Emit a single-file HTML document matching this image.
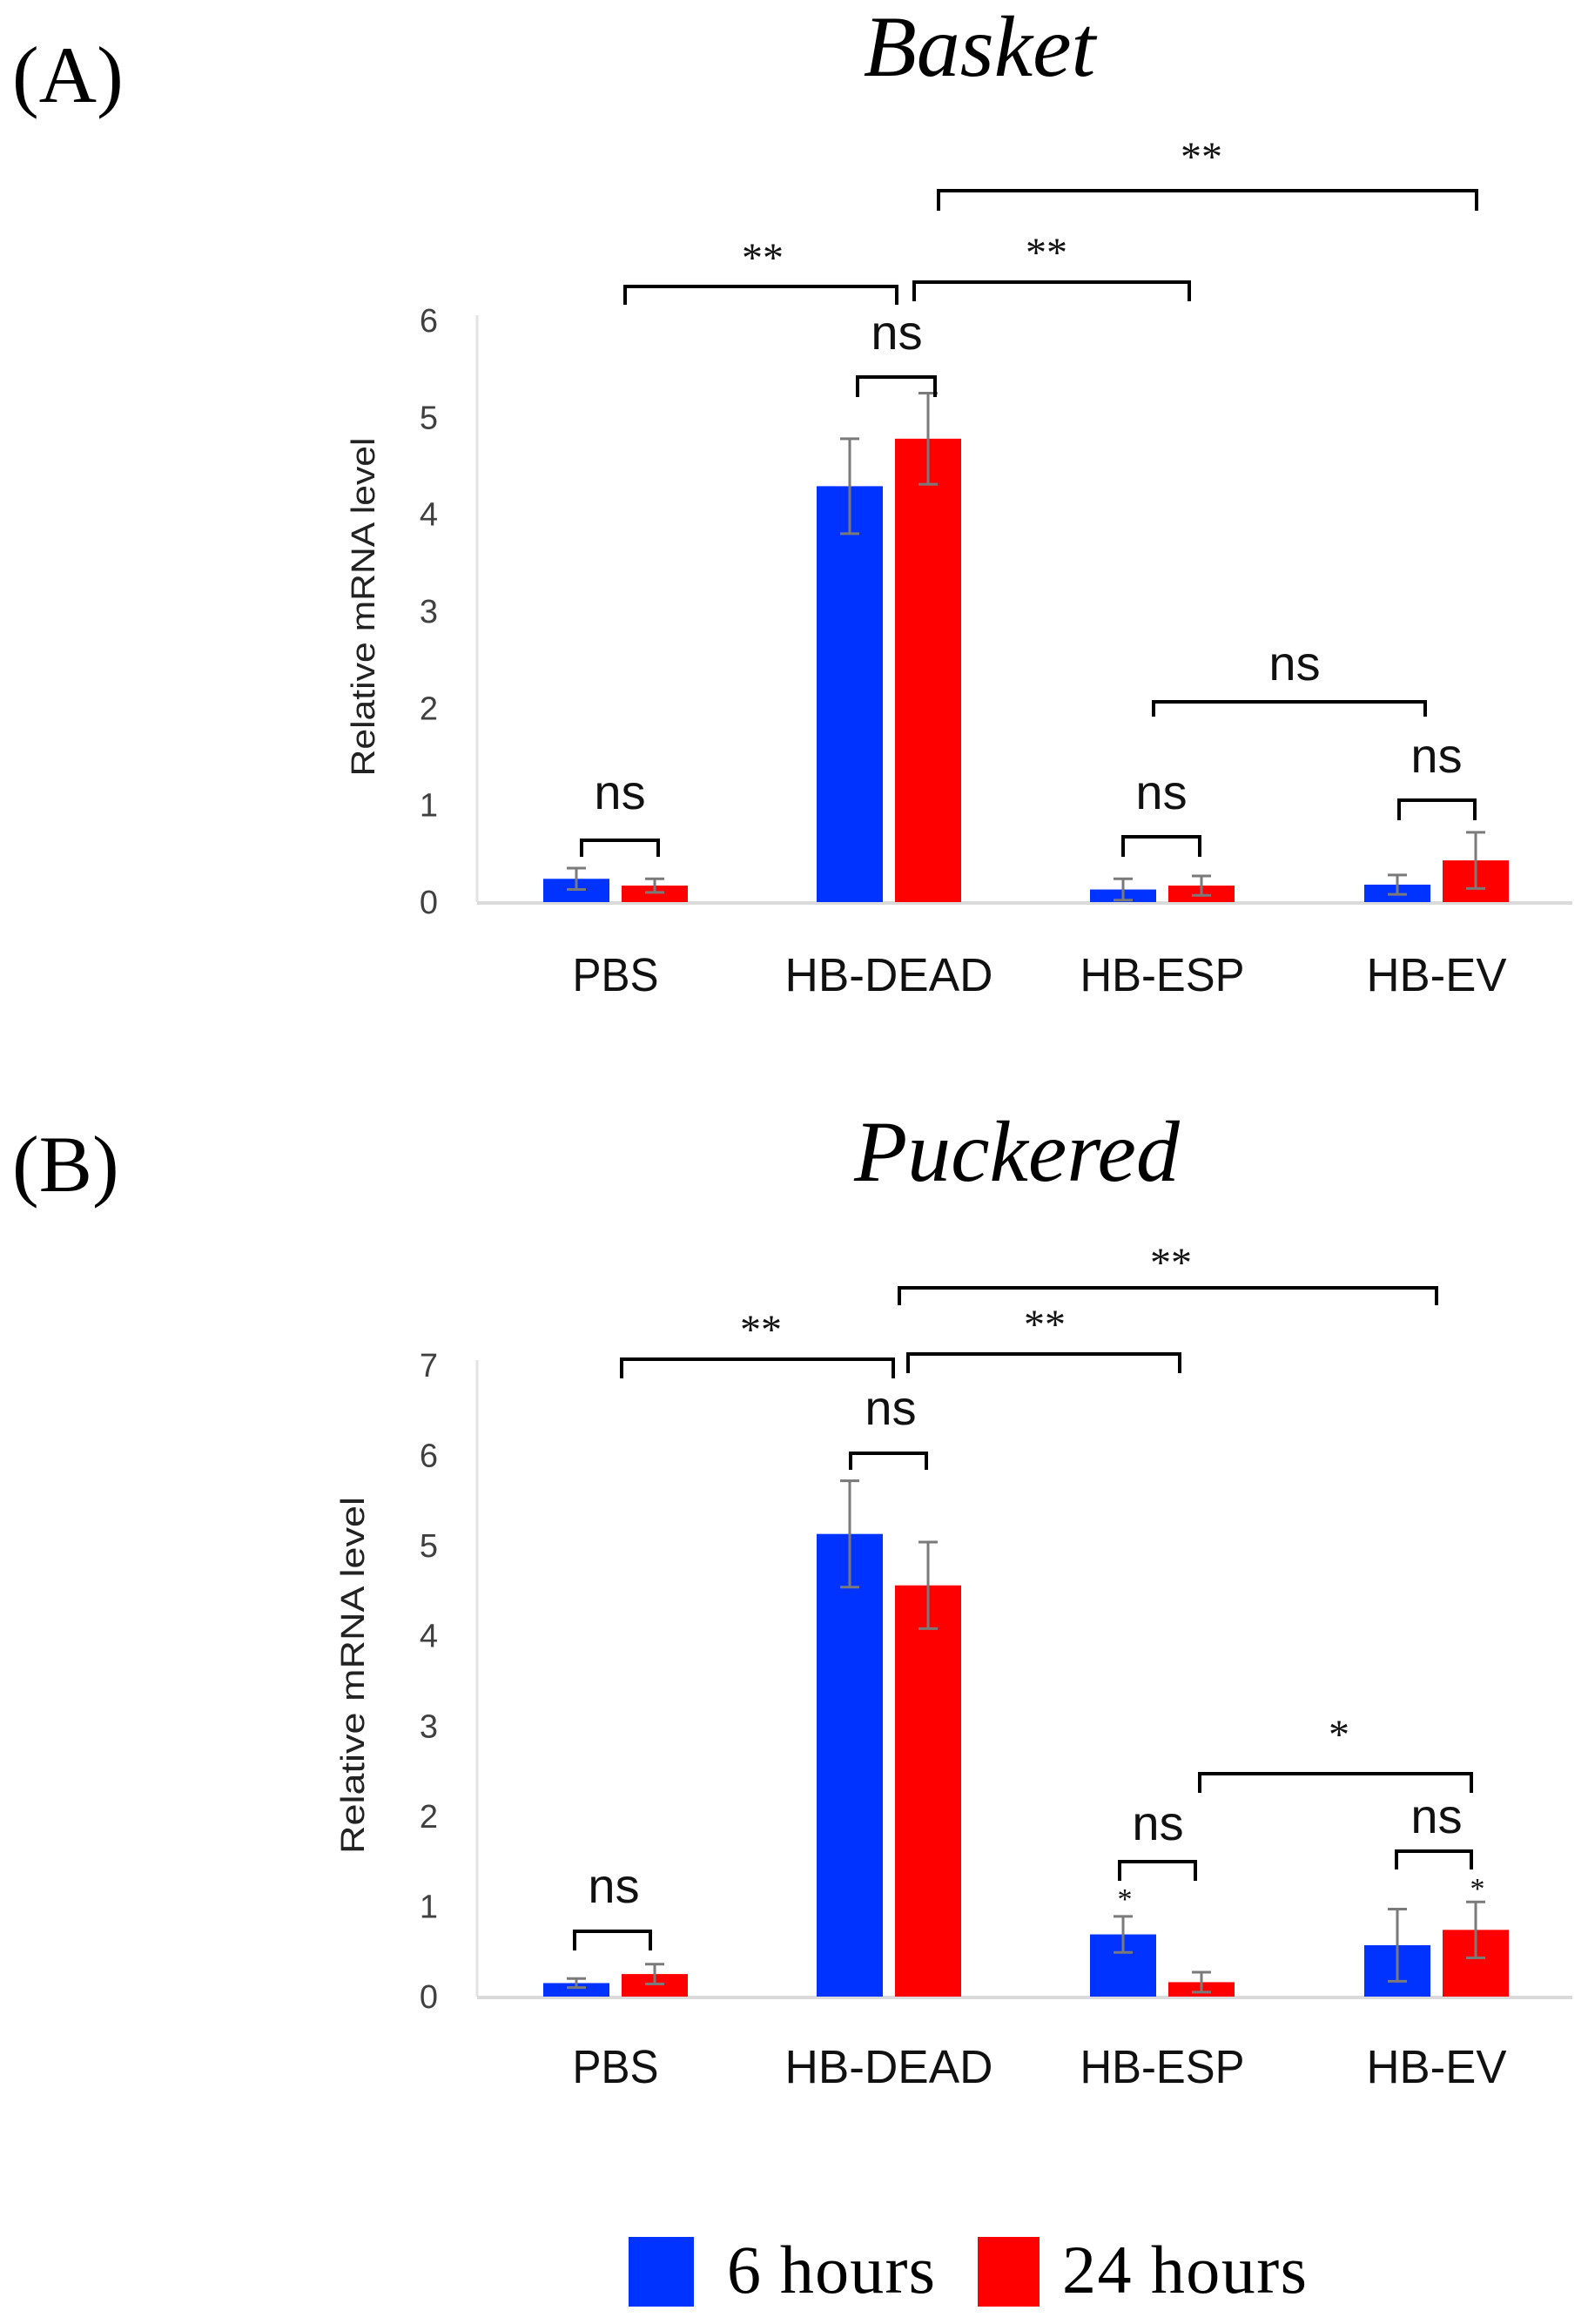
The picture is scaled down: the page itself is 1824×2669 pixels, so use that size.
<!DOCTYPE html>
<html><head><meta charset="utf-8"><style>
html,body{margin:0;padding:0;background:#fff;}
svg{display:block;}
.sans{font-family:"Liberation Sans",sans-serif;}
.serif{font-family:"Liberation Serif",serif;}
</style></head><body>
<svg id="fig" width="1824" height="2669" viewBox="0 0 1824 2669" xmlns="http://www.w3.org/2000/svg">
<text x="14" y="117" class="serif" font-size="92">(A)</text>
<text x="1125" y="87" class="serif" font-size="100" font-style="italic" text-anchor="middle">Basket</text>
<text x="14" y="1368" class="serif" font-size="92">(B)</text>
<text x="1168" y="1356" class="serif" font-size="100" font-style="italic" text-anchor="middle">Puckered</text>
<g>
<rect x="722" y="2569" width="75" height="80" fill="#0033ff"/>
<text x="835" y="2633" class="serif" font-size="78" textLength="239">6 hours</text>
<rect x="1123" y="2569" width="71" height="80" fill="#ff0000"/>
<text x="1220" y="2633" class="serif" font-size="78" textLength="281">24 hours</text>
</g>
</svg>
<script>
const categories = ["PBS","HB-DEAD","HB-ESP","HB-EV"];
const basket6h = [0.24, 4.29, 0.13, 0.18];
const basket24h = [0.17, 4.78, 0.17, 0.43];
const basket6hErr = [0.11, 0.49, 0.11, 0.10];
const basket24hErr = [0.07, 0.47, 0.10, 0.29];
const puckered6h = [0.15, 5.13, 0.69, 0.57];
const puckered24h = [0.25, 4.56, 0.16, 0.74];
const puckered6hErr = [0.05, 0.59, 0.20, 0.40];
const puckered24hErr = [0.11, 0.48, 0.11, 0.31];
const basketTicks = [0,1,2,3,4,5,6];
const puckeredTicks = [0,1,2,3,4,5,6,7];

const NS = "http://www.w3.org/2000/svg";
const svg = document.getElementById("fig");
function mk(tag, attrs, parent){
  const e = document.createElementNS(NS, tag);
  for (const k in attrs) e.setAttribute(k, attrs[k]);
  (parent||svg).appendChild(e);
  return e;
}
const catX = [707, 1021, 1335, 1650];
const labelLen = [99, 239, 189, 161];

function panel(p){
  const g = mk("g", {});
  
  
  const yv = v => p.y0 - (p.y0 - p.yTop) * v / p.max;
  // axes
  const ya = mk("line", {x1:548, x2:548, y1:p.yTop-6, y2:p.y0, stroke:"#e3e3e3", "stroke-width":3}, g);
  
  
  const xa = mk("line", {x1:548, x2:1806, y1:p.y0+1, y2:p.y0+1, stroke:"#dadada", "stroke-width":4}, g);
  
  
  p.ticks.forEach(t => {
    const tx = mk("text", {x:503, y:yv(t)+13, "text-anchor":"end", "font-size":38, fill:"#404040", class:"sans"}, g);
    tx.textContent = t;
    
    
  });
  const yt = mk("text", {x:0, y:0, "text-anchor":"middle", "font-size":38, fill:"#222", class:"sans", textLength:p.titleLen, lengthAdjust:"spacingAndGlyphs", transform:`translate(${p.titleX},${p.titleY}) rotate(-90)`}, g);
  yt.textContent = "Relative mRNA level";
  
  
  categories.forEach((c, i) => {
    const lt = mk("text", {x:catX[i], y:p.labelY, "text-anchor":"middle", "font-size":54, fill:"#111", class:"sans", textLength:labelLen[i], lengthAdjust:"spacingAndGlyphs"}, g);
    lt.textContent = c;
    
    
    const series = [[p.s1, p.e1, "#0033ff", -83], [p.s2, p.e2, "#ff0000", 7]];
    series.forEach(([s, e, col, off], si) => {
      const top = yv(s[i]);
      const b = mk("rect", {x:catX[i]+off, y:top, width:76, height:p.y0-top, fill:col}, g);
      
      
      const cx = catX[i]+off+38;
      const hi = yv(s[i]+e[i]), lo = yv(Math.max(0, s[i]-e[i]));
      const eb = mk("path", {d:`M${cx},${hi}V${lo}M${cx-11},${hi}H${cx+11}M${cx-11},${lo}H${cx+11}`, stroke:"#7a7a7a", "stroke-width":3, fill:"none"}, g);
      
      
    });
  });
  p.brackets.forEach(br => {
    const [x1, x2, yTopB, yLeg, label, tx, ty, fs, font] = br;
    const pth = mk("path", {d:`M${x1},${yLeg}V${yTopB}H${x2}V${yLeg}`, stroke:"#000", "stroke-width":4, fill:"none"}, g);
    
    
    const t = mk("text", {x:tx, y:ty, "text-anchor":"middle", "font-size":fs, class:font, fill:"#111"}, g);
    t.textContent = label;
    
    
  });
  (p.stars||[]).forEach(([x, y]) => {
    const t = mk("text", {x:x, y:y, "text-anchor":"middle", "font-size":34, class:"serif", fill:"#111"}, g);
    t.textContent = "*";
    
    
  });
}

panel({name:"basket", y0:1036, yTop:368, max:6, ticks:basketTicks, s1:basket6h, s2:basket24h, e1:basket6hErr, e2:basket24hErr,
  titleX:430, titleY:697, titleLen:389, labelY:1138,
  brackets:[
    [718,1030,329,350,"**",876,312,48,"serif"],
    [1050,1366,324,346,"**",1202,306,48,"serif"],
    [1078,1696,219,242,"**",1380,196,48,"serif"],
    [985,1074,433,456,"ns",1030,401,56,"sans"],
    [668,756,965,984,"ns",712,929,56,"sans"],
    [1290,1378,961,984,"ns",1334,929,56,"sans"],
    [1607,1694,919,942,"ns",1650,887,56,"sans"],
    [1325,1637,806,823,"ns",1487,781,56,"sans"]
  ]});
panel({name:"puckered", y0:2293, yTop:1568, max:7, ticks:puckeredTicks, s1:puckered6h, s2:puckered24h, e1:puckered6hErr, e2:puckered24hErr,
  titleX:418, titleY:1924, titleLen:410, labelY:2392,
  brackets:[
    [714,1026,1561,1583,"**",874,1543,48,"serif"],
    [1043,1355,1555,1577,"**",1200,1537,48,"serif"],
    [1033,1650,1479,1499,"**",1345,1466,48,"serif"],
    [977,1064,1669,1688,"ns",1023,1636,56,"sans"],
    [660,747,2218,2240,"ns",705,2185,56,"sans"],
    [1286,1373,2138,2160,"ns",1330,2113,56,"sans"],
    [1604,1690,2126,2147,"ns",1650,2105,56,"sans"],
    [1378,1690,2037,2059,"*",1538,2008,48,"serif"]
  ],
  stars:[[1292,2192],[1697,2180]]});
</script>
</body></html>
